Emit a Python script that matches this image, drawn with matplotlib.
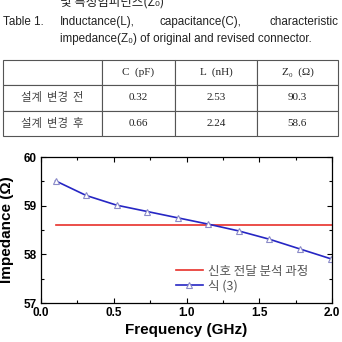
import matplotlib
matplotlib.use("Agg")
import matplotlib.pyplot as plt
from matplotlib.ticker import MultipleLocator

KR = ['Noto Sans CJK KR', 'DejaVu Sans']
SANS = ['Liberation Sans', 'DejaVu Sans']
SERIF = ['Liberation Serif', 'DejaVu Serif']

# table data
col_labels = ['', 'C  (pF)', 'L  (nH)', 'Z₀  (Ω)']
row_labels = ['설계  변경  전', '설계  변경  후']
cap_pf = ['0.32', '0.66']
ind_nh = ['2.53', '2.24']
z0_ohm = ['90.3', '58.6']

# chart data
freq = [0.10, 0.31, 0.52, 0.73, 0.94, 1.15, 1.36, 1.57, 1.78, 1.99]
z_eq3 = [59.51, 59.21, 59.01, 58.88, 58.75, 58.62, 58.48, 58.31, 58.11, 57.91]
z_ref = 58.6
ref_span = [0.1, 2.0]

W = H = 342
fig = plt.figure(figsize=(3.42, 3.42), dpi=100)
fig.patch.set_facecolor('white')

def fx(px):
    return px / W

def fy(py):
    return 1 - py / H

# caption
fig.text(fx(60), fy(2), '및 특성임피던스(Z₀)', family=KR, fontsize=9,
         va='center', ha='left', color='#222')
fig.text(fx(3), fy(22), 'Table 1.', family=SANS, fontsize=8.4, va='center', color='#222')
fig.text(fx(60), fy(22), 'Inductance(L),', family=SANS, fontsize=8.4, va='center', color='#222')
fig.text(fx(160), fy(22), 'capacitance(C),', family=SANS, fontsize=8.4, va='center', color='#222')
fig.text(fx(338), fy(22), 'characteristic', family=SANS, fontsize=8.4, va='center',
         ha='right', color='#222')
fig.text(fx(60), fy(39), 'impedance(Z₀) of original and revised connector.', family=SANS,
         fontsize=8.4, va='center', color='#222')

# table
ax_t = fig.add_axes([fx(3), fy(136), fx(335), 76 / H])
ax_t.axis('off')
cells = [[row_labels[i], cap_pf[i], ind_nh[i], z0_ohm[i]] for i in range(len(row_labels))]
widths = [99, 73, 82, 81]
tbl = ax_t.table(cellText=cells, colLabels=col_labels,
                 colWidths=[w / sum(widths) for w in widths],
                 cellLoc='center', bbox=[0, 0, 1, 1])
tbl.auto_set_font_size(False)
for (r, c), cell in tbl.get_celld().items():
    cell.set_edgecolor('#555555')
    cell.set_linewidth(0.8)
    t = cell.get_text()
    if c == 0 and r > 0:
        t.set_fontfamily(KR)
        t.set_fontsize(8.2)
        t.set_color('#444')
    else:
        t.set_fontfamily(SERIF)
        t.set_fontsize(8)
        t.set_color('#222')

# chart
ax = fig.add_axes([fx(41), fy(303), 291 / W, 146 / H])
ax.plot(ref_span, [z_ref, z_ref], color='#e8302a', lw=1.2, label='신호 전달 분석 과정')
ax.plot(freq, z_eq3, color='#2626c4', lw=1.2, marker='^', markersize=5,
        markerfacecolor='white', markeredgecolor='#8a8ac8', markeredgewidth=0.8,
        label='식 (3)')

ax.set_xlim(0, 2.0)
ax.set_ylim(57, 60)
ax.xaxis.set_major_locator(MultipleLocator(0.5))
ax.xaxis.set_minor_locator(MultipleLocator(0.25))
ax.yaxis.set_major_locator(MultipleLocator(1))
ax.yaxis.set_minor_locator(MultipleLocator(0.5))
ax.tick_params(which='both', direction='in', top=True, right=True, width=0.8)
ax.tick_params(which='major', length=3.5, labelsize=8.5)
ax.tick_params(axis='x', which='major', pad=3)
ax.tick_params(axis='y', which='major', pad=3)
ax.tick_params(which='minor', length=2)
ax.xaxis.set_major_formatter(matplotlib.ticker.FormatStrFormatter('%.1f'))
for lab in ax.get_xticklabels() + ax.get_yticklabels():
    lab.set_fontweight('bold')
    lab.set_fontfamily(SANS)
for sp in ax.spines.values():
    sp.set_linewidth(0.9)

ax.set_xlabel('Frequency (GHz)', fontsize=11, fontweight='bold', family=SANS, labelpad=3)
ax.set_ylabel('Impedance (Ω)', fontsize=11, fontweight='bold', family=SANS, labelpad=7)

leg = ax.legend(loc='upper left', bbox_to_anchor=(0.465, 0.262), frameon=False,
                prop={'family': KR, 'size': 9}, handlelength=2.1, handletextpad=0.4,
                borderpad=0, borderaxespad=0, labelspacing=0.12)
for t in leg.get_texts():
    t.set_color('#555')

fig.savefig('out.png', dpi=100)
